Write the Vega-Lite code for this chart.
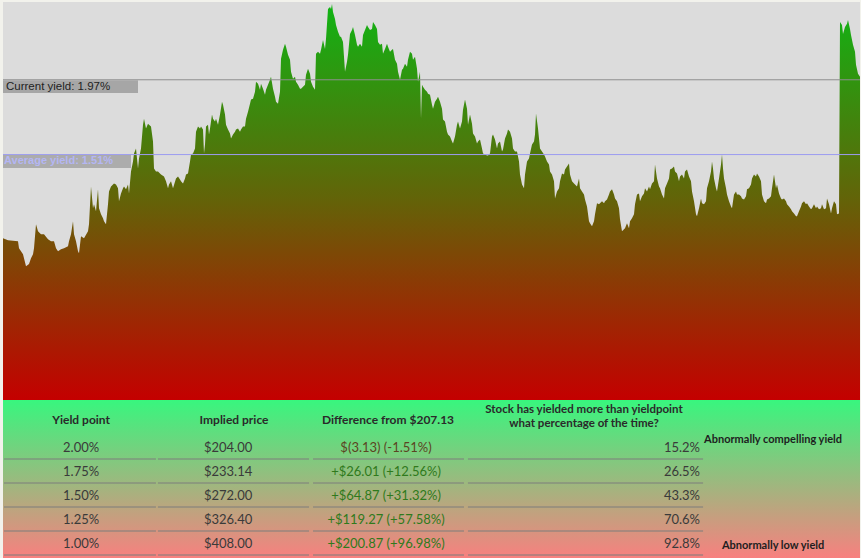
{
  "$schema": "https://vega.github.io/schema/vega-lite/v6.json",
  "background": "#f2f2ec",
  "padding": {"left": 2, "top": 2, "right": 2, "bottom": 0},
  "spacing": 0,
  "config": {"view": {"stroke": null}},
  "vconcat": [
    {
      "width": 857,
      "height": 398,
      "view": {"fill": "#dcdcdc", "stroke": null},
      "layer": [
        {
          "data": {"values": [
{"d":2,"v":0.995},{"d":7,"v":0.983},{"d":17,"v":0.977},{"d":18,"v":0.934},{"d":22,"v":0.897},{"d":25,"v":0.823},{"d":28,"v":0.836},{"d":30,"v":0.872},{"d":32,"v":0.897},{"d":33,"v":0.934},{"d":35,"v":1.081},{"d":37,"v":1.038},{"d":40,"v":1.020},{"d":43,"v":1.020},{"d":47,"v":0.989},{"d":50,"v":0.977},{"d":53,"v":0.977},{"d":55,"v":0.934},{"d":57,"v":0.915},{"d":60,"v":0.928},{"d":63,"v":0.934},{"d":67,"v":0.946},{"d":68,"v":0.977},{"d":70,"v":1.020},{"d":72,"v":1.099},{"d":73,"v":1.020},{"d":75,"v":0.977},{"d":77,"v":0.915},{"d":78,"v":0.903},{"d":80,"v":1.007},{"d":83,"v":0.995},{"d":87,"v":1.038},{"d":88,"v":1.081},{"d":90,"v":1.314},{"d":92,"v":1.179},{"d":93,"v":1.204},{"d":95,"v":1.161},{"d":97,"v":1.296},{"d":98,"v":1.179},{"d":100,"v":1.142},{"d":102,"v":1.118},{"d":103,"v":1.099},{"d":105,"v":1.081},{"d":107,"v":1.204},{"d":108,"v":1.283},{"d":110,"v":1.314},{"d":113,"v":1.332},{"d":115,"v":1.326},{"d":117,"v":1.302},{"d":118,"v":1.222},{"d":120,"v":1.271},{"d":122,"v":1.302},{"d":123,"v":1.314},{"d":125,"v":1.296},{"d":127,"v":1.326},{"d":128,"v":1.271},{"d":130,"v":1.406},{"d":132,"v":1.467},{"d":133,"v":1.516},{"d":135,"v":1.547},{"d":137,"v":1.424},{"d":138,"v":1.486},{"d":140,"v":1.547},{"d":142,"v":1.694},{"d":143,"v":1.731},{"d":145,"v":1.670},{"d":147,"v":1.700},{"d":148,"v":1.694},{"d":150,"v":1.682},{"d":152,"v":1.590},{"d":153,"v":1.424},{"d":155,"v":1.406},{"d":157,"v":1.406},{"d":160,"v":1.388},{"d":163,"v":1.375},{"d":165,"v":1.345},{"d":167,"v":1.302},{"d":168,"v":1.326},{"d":170,"v":1.345},
{"d":172,"v":1.302},{"d":175,"v":1.363},{"d":177,"v":1.375},{"d":179,"v":1.357},{"d":180,"v":1.345},{"d":182,"v":1.332},{"d":184,"v":1.363},{"d":185,"v":1.388},{"d":187,"v":1.394},{"d":189,"v":1.467},{"d":190,"v":1.510},{"d":192,"v":1.516},{"d":194,"v":1.547},{"d":195,"v":1.651},{"d":197,"v":1.682},{"d":199,"v":1.670},{"d":200,"v":1.682},{"d":202,"v":1.664},{"d":203,"v":1.516},{"d":204,"v":1.572},{"d":205,"v":1.682},{"d":207,"v":1.694},{"d":208,"v":1.633},{"d":209,"v":1.670},{"d":211,"v":1.756},{"d":212,"v":1.731},{"d":214,"v":1.713},{"d":215,"v":1.731},{"d":217,"v":1.694},{"d":219,"v":1.756},{"d":221,"v":1.835},{"d":222,"v":1.817},{"d":224,"v":1.756},{"d":225,"v":1.694},{"d":227,"v":1.664},{"d":229,"v":1.639},{"d":230,"v":1.608},{"d":232,"v":1.633},{"d":234,"v":1.651},{"d":235,"v":1.664},{"d":237,"v":1.670},{"d":239,"v":1.651},{"d":240,"v":1.664},{"d":242,"v":1.682},{"d":244,"v":1.682},{"d":245,"v":1.731},{"d":247,"v":1.774},{"d":249,"v":1.823},{"d":250,"v":1.848},{"d":252,"v":1.854},{"d":254,"v":1.897},{"d":255,"v":1.958},{"d":257,"v":1.946},{"d":259,"v":1.909},{"d":260,"v":1.946},{"d":262,"v":1.915},{"d":264,"v":1.878},{"d":265,"v":1.909},{"d":267,"v":1.940},{"d":269,"v":1.970},{"d":270,"v":1.989},{"d":272,"v":1.915},{"d":274,"v":1.866},{"d":275,"v":1.835},{"d":277,"v":1.823},{"d":279,"v":1.897},{"d":280,"v":2.099},{"d":282,"v":2.154},{"d":284,"v":2.191},{"d":285,"v":2.173},{"d":287,"v":2.124},{"d":289,"v":2.093},{"d":290,"v":2.019},{"d":292,"v":1.976},{"d":294,"v":1.989},{"d":295,"v":1.958},{"d":297,"v":1.940},{"d":299,"v":1.915},{"d":300,"v":1.915},{"d":302,"v":1.927},{"d":304,"v":1.940},{"d":305,"v":2.001},{"d":307,"v":2.038},{"d":309,"v":2.007},{"d":310,"v":1.958},{"d":312,"v":1.927},{"d":314,"v":1.909},{"d":315,"v":2.130},{"d":317,"v":2.142},{"d":319,"v":2.130},{"d":320,"v":2.154},{"d":322,"v":2.215},{"d":324,"v":2.160},{"d":325,"v":2.222},{"d":327,"v":2.406},{"d":329,"v":2.418},{"d":330,"v":2.406},{"d":331,"v":2.436},{"d":332,"v":2.387},{"d":334,"v":2.344},{"d":335,"v":2.307},{"d":337,"v":2.265},{"d":339,"v":2.234},{"d":340,"v":2.234},{"d":342,"v":2.203},
{"d":344,"v":2.019},{"d":346,"v":2.081},{"d":347,"v":2.124},{"d":349,"v":2.252},{"d":351,"v":2.277},{"d":352,"v":2.295},{"d":354,"v":2.246},{"d":356,"v":2.185},{"d":357,"v":2.173},{"d":359,"v":2.191},{"d":361,"v":2.173},{"d":362,"v":2.246},{"d":364,"v":2.277},{"d":366,"v":2.307},{"d":367,"v":2.295},{"d":369,"v":2.277},{"d":371,"v":2.283},{"d":372,"v":2.326},{"d":374,"v":2.307},{"d":376,"v":2.283},{"d":377,"v":2.203},{"d":379,"v":2.185},{"d":381,"v":2.191},{"d":382,"v":2.130},{"d":384,"v":2.160},{"d":386,"v":2.191},{"d":387,"v":2.173},{"d":389,"v":2.142},{"d":391,"v":2.154},{"d":392,"v":2.160},{"d":394,"v":2.093},{"d":396,"v":2.068},{"d":397,"v":2.019},{"d":399,"v":1.970},{"d":401,"v":2.032},{"d":402,"v":2.038},{"d":404,"v":2.068},{"d":406,"v":2.050},{"d":407,"v":2.093},{"d":409,"v":2.142},{"d":411,"v":2.130},{"d":412,"v":2.093},{"d":414,"v":2.111},{"d":416,"v":2.038},{"d":417,"v":1.958},{"d":419,"v":2.019},{"d":420,"v":1.731},{"d":421,"v":1.940},{"d":422,"v":1.927},{"d":424,"v":1.909},{"d":426,"v":1.897},{"d":427,"v":1.884},{"d":429,"v":1.878},{"d":431,"v":1.817},{"d":432,"v":1.792},{"d":434,"v":1.835},{"d":436,"v":1.854},{"d":437,"v":1.866},{"d":439,"v":1.835},{"d":441,"v":1.792},{"d":442,"v":1.725},{"d":444,"v":1.713},{"d":446,"v":1.651},{"d":447,"v":1.633},{"d":449,"v":1.621},{"d":451,"v":1.590},{"d":452,"v":1.578},{"d":454,"v":1.621},{"d":456,"v":1.694},{"d":457,"v":1.713},{"d":459,"v":1.670},{"d":461,"v":1.713},{"d":462,"v":1.786},{"d":464,"v":1.848},{"d":466,"v":1.792},{"d":467,"v":1.694},{"d":469,"v":1.756},{"d":471,"v":1.700},{"d":472,"v":1.639},{"d":474,"v":1.621},{"d":476,"v":1.578},{"d":477,"v":1.590},{"d":479,"v":1.602},{"d":481,"v":1.547},{"d":482,"v":1.516},{"d":484,"v":1.510},{"d":486,"v":1.504},{"d":487,"v":1.504},{"d":489,"v":1.516},{"d":491,"v":1.621},{"d":492,"v":1.633},{"d":494,"v":1.602},{"d":496,"v":1.547},{"d":497,"v":1.578},{"d":499,"v":1.590},{"d":501,"v":1.529},{"d":502,"v":1.541},{"d":504,"v":1.608},{"d":506,"v":1.639},{"d":507,"v":1.664},{"d":509,"v":1.651},{"d":511,"v":1.608},{"d":512,"v":1.547},{"d":514,"v":1.529},
{"d":516,"v":1.529},{"d":518,"v":1.467},{"d":519,"v":1.388},{"d":521,"v":1.326},{"d":523,"v":1.302},{"d":524,"v":1.388},{"d":526,"v":1.467},{"d":528,"v":1.486},{"d":529,"v":1.516},{"d":531,"v":1.572},{"d":533,"v":1.590},{"d":534,"v":1.633},{"d":535,"v":1.762},{"d":537,"v":1.670},{"d":538,"v":1.608},{"d":539,"v":1.547},{"d":541,"v":1.529},{"d":543,"v":1.510},{"d":544,"v":1.498},{"d":546,"v":1.467},{"d":548,"v":1.449},{"d":549,"v":1.406},{"d":551,"v":1.388},{"d":553,"v":1.345},{"d":554,"v":1.240},{"d":556,"v":1.283},{"d":558,"v":1.302},{"d":559,"v":1.345},{"d":561,"v":1.394},{"d":563,"v":1.388},{"d":564,"v":1.418},{"d":566,"v":1.437},{"d":568,"v":1.455},{"d":569,"v":1.388},{"d":571,"v":1.345},{"d":573,"v":1.332},{"d":574,"v":1.326},{"d":576,"v":1.314},{"d":578,"v":1.363},{"d":579,"v":1.302},{"d":581,"v":1.283},{"d":583,"v":1.265},{"d":584,"v":1.234},{"d":586,"v":1.191},{"d":588,"v":1.099},{"d":589,"v":1.087},{"d":591,"v":1.069},{"d":593,"v":1.099},{"d":594,"v":1.142},{"d":596,"v":1.210},{"d":598,"v":1.204},{"d":599,"v":1.210},{"d":601,"v":1.222},{"d":603,"v":1.210},{"d":604,"v":1.222},{"d":606,"v":1.234},{"d":608,"v":1.265},{"d":609,"v":1.283},{"d":611,"v":1.296},{"d":613,"v":1.265},{"d":614,"v":1.240},{"d":616,"v":1.222},{"d":618,"v":1.179},{"d":619,"v":1.112},{"d":621,"v":1.038},{"d":623,"v":1.050},{"d":624,"v":1.056},{"d":626,"v":1.087},{"d":628,"v":1.056},{"d":629,"v":1.099},{"d":631,"v":1.118},{"d":633,"v":1.142},{"d":634,"v":1.204},{"d":636,"v":1.265},{"d":638,"v":1.271},{"d":639,"v":1.222},{"d":641,"v":1.253},{"d":643,"v":1.271},{"d":644,"v":1.302},{"d":646,"v":1.283},{"d":648,"v":1.314},{"d":649,"v":1.296},{"d":651,"v":1.332},{"d":653,"v":1.345},{"d":654,"v":1.449},{"d":656,"v":1.363},{"d":658,"v":1.314},{"d":659,"v":1.302},{"d":661,"v":1.265},{"d":663,"v":1.240},{"d":664,"v":1.302},{"d":666,"v":1.332},{"d":668,"v":1.363},{"d":669,"v":1.418},{"d":671,"v":1.424},{"d":673,"v":1.437},{"d":674,"v":1.406},{"d":676,"v":1.394},{"d":678,"v":1.345},{"d":679,"v":1.375},{"d":681,"v":1.388},{"d":683,"v":1.363},{"d":684,"v":1.406},{"d":686,"v":1.418},
{"d":688,"v":1.375},{"d":690,"v":1.345},{"d":691,"v":1.283},{"d":693,"v":1.222},{"d":695,"v":1.142},{"d":696,"v":1.130},{"d":698,"v":1.179},{"d":700,"v":1.240},{"d":701,"v":1.210},{"d":703,"v":1.204},{"d":705,"v":1.222},{"d":706,"v":1.302},{"d":708,"v":1.345},{"d":710,"v":1.406},{"d":711,"v":1.467},{"d":712,"v":1.424},{"d":713,"v":1.363},{"d":715,"v":1.302},{"d":716,"v":1.283},{"d":718,"v":1.363},{"d":720,"v":1.449},{"d":721,"v":1.510},{"d":722,"v":1.424},{"d":723,"v":1.363},{"d":725,"v":1.302},{"d":726,"v":1.265},{"d":728,"v":1.222},{"d":730,"v":1.191},{"d":731,"v":1.179},{"d":733,"v":1.265},{"d":735,"v":1.283},{"d":736,"v":1.265},{"d":738,"v":1.265},{"d":740,"v":1.253},{"d":741,"v":1.240},{"d":743,"v":1.234},{"d":745,"v":1.253},{"d":746,"v":1.296},{"d":748,"v":1.302},{"d":750,"v":1.326},{"d":751,"v":1.363},{"d":753,"v":1.388},{"d":755,"v":1.375},{"d":756,"v":1.394},{"d":758,"v":1.375},{"d":760,"v":1.345},{"d":761,"v":1.265},{"d":763,"v":1.222},{"d":765,"v":1.210},{"d":766,"v":1.234},{"d":768,"v":1.240},{"d":770,"v":1.253},{"d":771,"v":1.302},{"d":773,"v":1.388},{"d":775,"v":1.302},{"d":776,"v":1.326},{"d":778,"v":1.271},{"d":780,"v":1.240},{"d":781,"v":1.234},{"d":783,"v":1.240},{"d":785,"v":1.222},{"d":786,"v":1.204},{"d":788,"v":1.191},{"d":790,"v":1.173},{"d":791,"v":1.161},{"d":793,"v":1.148},{"d":795,"v":1.130},{"d":796,"v":1.130},{"d":798,"v":1.161},{"d":800,"v":1.191},{"d":801,"v":1.210},{"d":803,"v":1.222},{"d":805,"v":1.204},{"d":806,"v":1.210},{"d":808,"v":1.191},{"d":810,"v":1.173},{"d":811,"v":1.179},{"d":813,"v":1.204},{"d":815,"v":1.179},{"d":816,"v":1.191},{"d":818,"v":1.173},{"d":820,"v":1.179},{"d":821,"v":1.204},{"d":823,"v":1.173},{"d":825,"v":1.179},{"d":826,"v":1.240},{"d":828,"v":1.204},{"d":830,"v":1.148},{"d":831,"v":1.179},{"d":833,"v":1.222},{"d":835,"v":1.204},{"d":836,"v":1.142},{"d":838,"v":1.148},{"d":839,"v":2.326},{"d":841,"v":2.307},{"d":842,"v":2.252},{"d":844,"v":2.295},{"d":846,"v":2.314},{"d":847,"v":2.338},{"d":849,"v":2.283},{"d":850,"v":2.246},{"d":852,"v":2.185},{"d":854,"v":2.142},{"d":855,"v":2.062},{"d":857,"v":2.007},{"d":859,"v":1.989}
          ]},
          "mark": {
            "type": "area",
            "interpolate": "linear",
            "fill": {
              "gradient": "linear", "x1": 0, "y1": 1, "x2": 0, "y2": 0,
              "stops": [
                {"offset": 0, "color": "#c40000"},
                {"offset": 0.5, "color": "#646208"},
                {"offset": 1, "color": "#10b414"}
              ]
            }
          },
          "encoding": {
            "x": {"field": "d", "type": "quantitative", "scale": {"domain": [2, 859], "nice": false, "zero": false}, "axis": null},
            "y": {"field": "v", "type": "quantitative", "scale": {"domain": [0, 2.4485], "nice": false}, "axis": null}
          }
        },
        {
          "data": {"values": [{}]},
          "mark": {"type": "rule", "color": "#8e8e8e", "strokeWidth": 1},
          "encoding": {
            "y": {"datum": 1.97, "type": "quantitative", "scale": {"domain": [0, 2.4485], "nice": false}, "axis": null}
          }
        },
        {
          "data": {"values": [{}]},
          "mark": {"type": "rule", "color": "#9c9cf0", "strokeWidth": 1},
          "encoding": {
            "y": {"datum": 1.51, "type": "quantitative", "scale": {"domain": [0, 2.4485], "nice": false}, "axis": null}
          }
        },
        {
          "data": {"values": [{}]},
          "mark": {"type": "rect", "color": "#a6a6a6"},
          "encoding": {
            "x": {"datum": 2, "type": "quantitative", "scale": {"domain": [2, 859], "nice": false, "zero": false}, "axis": null},
            "x2": {"datum": 137},
            "y": {"datum": 1.967, "type": "quantitative", "scale": {"domain": [0, 2.4485], "nice": false}, "axis": null},
            "y2": {"datum": 1.888}
          }
        },
        {
          "data": {"values": [{}]},
          "mark": {"type": "rect", "color": "#a6a6a6", "opacity": 0.9},
          "encoding": {
            "x": {"datum": 2, "type": "quantitative", "scale": {"domain": [2, 859], "nice": false, "zero": false}, "axis": null},
            "x2": {"datum": 130},
            "y": {"datum": 1.507, "type": "quantitative", "scale": {"domain": [0, 2.4485], "nice": false}, "axis": null},
            "y2": {"datum": 1.428}
          }
        },
        {
          "data": {"values": [{}]},
          "mark": {"type": "text", "text": "Current yield: 1.97%", "font": "Liberation Sans", "fontSize": 11.5, "color": "#1e1e1e", "align": "left", "baseline": "middle", "dx": 3},
          "encoding": {
            "x": {"datum": 2, "type": "quantitative", "scale": {"domain": [2, 859], "nice": false, "zero": false}, "axis": null},
            "y": {"datum": 1.928, "type": "quantitative", "scale": {"domain": [0, 2.4485], "nice": false}, "axis": null}
          }
        },
        {
          "data": {"values": [{}]},
          "mark": {"type": "text", "text": "Average yield: 1.51%", "font": "Liberation Sans", "fontSize": 11, "fontWeight": "bold", "color": "#b4b6f4", "align": "left", "baseline": "middle", "dx": 1},
          "encoding": {
            "x": {"datum": 2, "type": "quantitative", "scale": {"domain": [2, 859], "nice": false, "zero": false}, "axis": null},
            "y": {"datum": 1.468, "type": "quantitative", "scale": {"domain": [0, 2.4485], "nice": false}, "axis": null}
          }
        }
      ]
    },
    {
      "width": 857,
      "height": 158,
      "layer": [
        {
          "data": {"values": [{}]},
          "mark": {
            "type": "rect",
            "fill": {
              "gradient": "linear", "x1": 0, "y1": 0, "x2": 0, "y2": 1,
              "stops": [
                {"offset": 0, "color": "#38f67e"},
                {"offset": 1, "color": "#f8807f"}
              ]
            }
          },
          "encoding": {
            "x": {"datum": 0, "type": "quantitative", "scale": {"domain": [0, 5.62], "nice": false, "zero": false}, "axis": null},
            "x2": {"datum": 5.62},
            "y": {"datum": -1, "type": "quantitative", "scale": {"domain": [-1, 5.583], "nice": false, "zero": false, "reverse": true}, "axis": null},
            "y2": {"datum": 5.583}
          }
        },
        {
          "data": {"values": [
            {"row": 1, "yp": "2.00%", "price": "$204.00", "diff": "$(3.13) (-1.51%)", "dir": "down", "pct": "15.2%"},
            {"row": 2, "yp": "1.75%", "price": "$233.14", "diff": "+$26.01 (+12.56%)", "dir": "up", "pct": "26.5%"},
            {"row": 3, "yp": "1.50%", "price": "$272.00", "diff": "+$64.87 (+31.32%)", "dir": "up", "pct": "43.3%"},
            {"row": 4, "yp": "1.25%", "price": "$326.40", "diff": "+$119.27 (+57.58%)", "dir": "up", "pct": "70.6%"},
            {"row": 5, "yp": "1.00%", "price": "$408.00", "diff": "+$200.87 (+96.98%)", "dir": "up", "pct": "92.8%"}
          ]},
          "layer": [
            {"mark": {"type": "rule", "color": "#7c7c7c", "strokeWidth": 1, "yOffset": 11},
             "encoding": {
               "x": {"datum": 0.0066, "type": "quantitative", "scale": {"domain": [0, 5.62], "nice": false, "zero": false}, "axis": null},
               "x2": {"datum": 1.003},
               "y": {"field": "row", "type": "quantitative", "scale": {"domain": [-1, 5.583], "nice": false, "zero": false, "reverse": true}, "axis": null}
             }},
            {"mark": {"type": "rule", "color": "#7c7c7c", "strokeWidth": 1, "yOffset": 11},
             "encoding": {
               "x": {"datum": 1.016, "type": "quantitative", "scale": {"domain": [0, 5.62], "nice": false, "zero": false}, "axis": null},
               "x2": {"datum": 2.007},
               "y": {"field": "row", "type": "quantitative", "scale": {"domain": [-1, 5.583], "nice": false, "zero": false, "reverse": true}, "axis": null}
             }},
            {"mark": {"type": "rule", "color": "#7c7c7c", "strokeWidth": 1, "yOffset": 11},
             "encoding": {
               "x": {"datum": 2.033, "type": "quantitative", "scale": {"domain": [0, 5.62], "nice": false, "zero": false}, "axis": null},
               "x2": {"datum": 3.023},
               "y": {"field": "row", "type": "quantitative", "scale": {"domain": [-1, 5.583], "nice": false, "zero": false, "reverse": true}, "axis": null}
             }},
            {"mark": {"type": "rule", "color": "#7c7c7c", "strokeWidth": 1, "yOffset": 11},
             "encoding": {
               "x": {"datum": 3.049, "type": "quantitative", "scale": {"domain": [0, 5.62], "nice": false, "zero": false}, "axis": null},
               "x2": {"datum": 4.591},
               "y": {"field": "row", "type": "quantitative", "scale": {"domain": [-1, 5.583], "nice": false, "zero": false, "reverse": true}, "axis": null}
             }},
            {"mark": {"type": "text", "font": "Lato", "fontSize": 13, "color": "#3a3a3a", "align": "center", "baseline": "middle"},
             "encoding": {
               "text": {"field": "yp"},
               "x": {"datum": 0.512, "type": "quantitative", "scale": {"domain": [0, 5.62], "nice": false, "zero": false}, "axis": null},
               "y": {"field": "row", "type": "quantitative", "scale": {"domain": [-1, 5.583], "nice": false, "zero": false, "reverse": true}, "axis": null}
             }},
            {"mark": {"type": "text", "font": "Lato", "fontSize": 13, "color": "#3a3a3a", "align": "center", "baseline": "middle"},
             "encoding": {
               "text": {"field": "price"},
               "x": {"datum": 1.476, "type": "quantitative", "scale": {"domain": [0, 5.62], "nice": false, "zero": false}, "axis": null},
               "y": {"field": "row", "type": "quantitative", "scale": {"domain": [-1, 5.583], "nice": false, "zero": false, "reverse": true}, "axis": null}
             }},
            {"mark": {"type": "text", "font": "Lato", "fontSize": 13, "align": "center", "baseline": "middle"},
             "encoding": {
               "text": {"field": "diff"},
               "color": {"field": "dir", "type": "nominal", "scale": {"domain": ["down", "up"], "range": ["#5c4422", "#2f7a1c"]}, "legend": null},
               "x": {"datum": 2.512, "type": "quantitative", "scale": {"domain": [0, 5.62], "nice": false, "zero": false}, "axis": null},
               "y": {"field": "row", "type": "quantitative", "scale": {"domain": [-1, 5.583], "nice": false, "zero": false, "reverse": true}, "axis": null}
             }},
            {"mark": {"type": "text", "font": "Lato", "fontSize": 13, "color": "#3a3a3a", "align": "right", "baseline": "middle"},
             "encoding": {
               "text": {"field": "pct"},
               "x": {"datum": 4.571, "type": "quantitative", "scale": {"domain": [0, 5.62], "nice": false, "zero": false}, "axis": null},
               "y": {"field": "row", "type": "quantitative", "scale": {"domain": [-1, 5.583], "nice": false, "zero": false, "reverse": true}, "axis": null}
             }}
          ]
        },
        {
          "data": {"values": [
            {"h": "Yield point", "c": 0.512},
            {"h": "Implied price", "c": 1.515},
            {"h": "Difference from $207.13", "c": 2.525}
          ]},
          "mark": {"type": "text", "font": "Lato", "fontSize": 12, "fontWeight": "bold", "color": "#2a2a2a", "align": "center", "baseline": "middle"},
          "encoding": {
            "text": {"field": "h"},
            "x": {"field": "c", "type": "quantitative", "scale": {"domain": [0, 5.62], "nice": false, "zero": false}, "axis": null},
            "y": {"datum": -0.17, "type": "quantitative", "scale": {"domain": [-1, 5.583], "nice": false, "zero": false, "reverse": true}, "axis": null}
          }
        },
        {
          "data": {"values": [
            {"t": "Stock has yielded more than yieldpoint", "r": -0.6},
            {"t": "what percentage of the time?", "r": -0.0}
          ]},
          "mark": {"type": "text", "font": "Lato", "fontSize": 11.5, "fontWeight": "bold", "color": "#2a2a2a", "align": "center", "baseline": "middle"},
          "encoding": {
            "text": {"field": "t"},
            "x": {"datum": 3.81, "type": "quantitative", "scale": {"domain": [0, 5.62], "nice": false, "zero": false}, "axis": null},
            "y": {"field": "r", "type": "quantitative", "scale": {"domain": [-1, 5.583], "nice": false, "zero": false, "reverse": true}, "axis": null}
          }
        },
        {
          "data": {"values": [
            {"n": "Abnormally compelling yield", "r": 0.68},
            {"n": "Abnormally low yield", "r": 5.083}
          ]},
          "mark": {"type": "text", "font": "Lato", "fontSize": 11, "fontWeight": "bold", "color": "#1e1e1e", "align": "center", "baseline": "middle"},
          "encoding": {
            "text": {"field": "n"},
            "x": {"datum": 5.05, "type": "quantitative", "scale": {"domain": [0, 5.62], "nice": false, "zero": false}, "axis": null},
            "y": {"field": "r", "type": "quantitative", "scale": {"domain": [-1, 5.583], "nice": false, "zero": false, "reverse": true}, "axis": null}
          }
        }
      ]
    }
  ]
}
